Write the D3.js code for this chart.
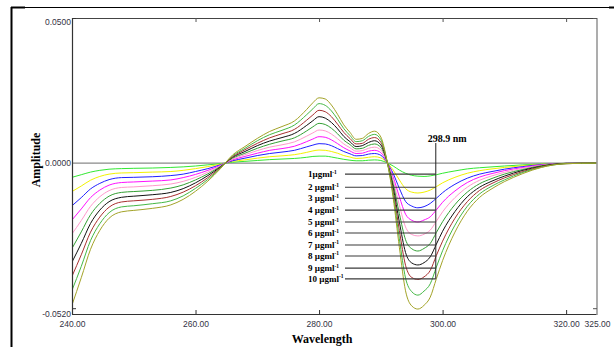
<!DOCTYPE html>
<html><head><meta charset="utf-8">
<script src="https://cdn.jsdelivr.net/npm/d3@7"></script>
<style>html,body{margin:0;padding:0;background:#fff;}svg{display:block;}</style>
</head><body>
<script>
const wavelengths = [240,241.5,243,244.5,246,248,250,253,256,258,260,262,264,266,268,270,272,274,276,278,279,280,281,282,283,284,285,286,287,288,289,290,291,292,293,294,295,296,297,298,299,300,302,304,306,308,310,313,316,320,325];

const s1 = [-0.0049,-0.0040,-0.0031,-0.0025,-0.0021,-0.0019,-0.0018,-0.0017,-0.0015,-0.0013,-0.0010,-0.0006,-0.0002,0.0003,0.0006,0.0009,0.0012,0.0014,0.0016,0.0020,0.0023,0.0024,0.0024,0.0021,0.0017,0.0013,0.0010,0.0008,0.0008,0.0010,0.0011,0.0009,0.0001,-0.0010,-0.0024,-0.0035,-0.0042,-0.0045,-0.0046,-0.0044,-0.0040,-0.0035,-0.0027,-0.0020,-0.0016,-0.0013,-0.0010,-0.0006,-0.0003,-0.0001,0];
const s2 = [-0.0098,-0.0079,-0.0059,-0.0046,-0.0038,-0.0034,-0.0033,-0.0031,-0.0029,-0.0025,-0.0019,-0.0012,-0.0004,0.0006,0.0011,0.0017,0.0022,0.0025,0.0029,0.0037,0.0042,0.0045,0.0044,0.0040,0.0034,0.0026,0.0021,0.0016,0.0017,0.0020,0.0022,0.0018,0.0002,-0.0024,-0.0058,-0.0088,-0.0100,-0.0103,-0.0100,-0.0093,-0.0081,-0.0068,-0.0049,-0.0035,-0.0026,-0.0020,-0.0015,-0.0009,-0.0004,-0.0001,0];
const s3 = [-0.0147,-0.0119,-0.0089,-0.0070,-0.0057,-0.0050,-0.0049,-0.0047,-0.0043,-0.0038,-0.0029,-0.0019,-0.0006,0.0008,0.0017,0.0026,0.0033,0.0038,0.0044,0.0056,0.0062,0.0067,0.0066,0.0060,0.0050,0.0040,0.0032,0.0025,0.0026,0.0031,0.0033,0.0027,0.0002,-0.0036,-0.0087,-0.0132,-0.0148,-0.0154,-0.0150,-0.0139,-0.0121,-0.0102,-0.0073,-0.0052,-0.0038,-0.0029,-0.0021,-0.0012,-0.0005,-0.0001,0];
const s4 = [-0.0196,-0.0158,-0.0119,-0.0093,-0.0076,-0.0067,-0.0065,-0.0062,-0.0058,-0.0050,-0.0039,-0.0025,-0.0008,0.0011,0.0023,0.0034,0.0044,0.0050,0.0058,0.0074,0.0083,0.0091,0.0089,0.0080,0.0067,0.0053,0.0042,0.0033,0.0034,0.0041,0.0044,0.0036,0.0003,-0.0048,-0.0116,-0.0176,-0.0197,-0.0203,-0.0196,-0.0185,-0.0161,-0.0135,-0.0096,-0.0067,-0.0048,-0.0036,-0.0026,-0.0015,-0.0006,-0.0001,0];
const s5 = [-0.0244,-0.0198,-0.0149,-0.0116,-0.0095,-0.0084,-0.0082,-0.0078,-0.0072,-0.0063,-0.0049,-0.0031,-0.0010,0.0014,0.0029,0.0043,0.0055,0.0063,0.0073,0.0093,0.0104,0.0114,0.0111,0.0100,0.0084,0.0066,0.0053,0.0041,0.0043,0.0051,0.0055,0.0045,0.0004,-0.0060,-0.0145,-0.0220,-0.0246,-0.0251,-0.0245,-0.0231,-0.0200,-0.0168,-0.0119,-0.0083,-0.0059,-0.0044,-0.0032,-0.0018,-0.0008,-0.0001,0];
const s6 = [-0.0294,-0.0237,-0.0178,-0.0139,-0.0114,-0.0101,-0.0098,-0.0094,-0.0086,-0.0075,-0.0058,-0.0037,-0.0012,0.0017,0.0034,0.0051,0.0065,0.0076,0.0087,0.0111,0.0125,0.0137,0.0133,0.0120,0.0101,0.0079,0.0064,0.0049,0.0051,0.0061,0.0066,0.0054,0.0005,-0.0072,-0.0174,-0.0264,-0.0295,-0.0303,-0.0294,-0.0277,-0.0239,-0.0202,-0.0143,-0.0100,-0.0071,-0.0053,-0.0038,-0.0022,-0.0009,-0.0001,0];
const s7 = [-0.0341,-0.0277,-0.0208,-0.0162,-0.0133,-0.0118,-0.0114,-0.0109,-0.0101,-0.0088,-0.0068,-0.0043,-0.0014,0.0020,0.0040,0.0060,0.0076,0.0088,0.0102,0.0130,0.0146,0.0160,0.0155,0.0140,0.0118,0.0092,0.0074,0.0057,0.0060,0.0071,0.0077,0.0063,0.0006,-0.0084,-0.0203,-0.0308,-0.0344,-0.0351,-0.0343,-0.0323,-0.0279,-0.0235,-0.0167,-0.0116,-0.0083,-0.0062,-0.0045,-0.0025,-0.0011,-0.0001,0];
const s8 = [-0.0390,-0.0316,-0.0238,-0.0186,-0.0152,-0.0134,-0.0130,-0.0125,-0.0115,-0.0100,-0.0078,-0.0050,-0.0016,0.0022,0.0046,0.0068,0.0087,0.0101,0.0116,0.0148,0.0166,0.0182,0.0177,0.0160,0.0134,0.0106,0.0085,0.0066,0.0068,0.0082,0.0088,0.0072,0.0006,-0.0096,-0.0232,-0.0352,-0.0394,-0.0401,-0.0392,-0.0370,-0.0318,-0.0269,-0.0190,-0.0133,-0.0094,-0.0070,-0.0051,-0.0029,-0.0012,-0.0002,0];
const s9 = [-0.0438,-0.0356,-0.0267,-0.0209,-0.0171,-0.0151,-0.0147,-0.0140,-0.0130,-0.0113,-0.0087,-0.0056,-0.0018,0.0025,0.0051,0.0077,0.0098,0.0113,0.0131,0.0167,0.0187,0.0205,0.0199,0.0180,0.0151,0.0119,0.0095,0.0074,0.0077,0.0092,0.0099,0.0081,0.0007,-0.0108,-0.0261,-0.0396,-0.0443,-0.0455,-0.0441,-0.0416,-0.0358,-0.0302,-0.0214,-0.0149,-0.0106,-0.0079,-0.0058,-0.0032,-0.0014,-0.0002,0];
const s10 = [-0.0489,-0.0395,-0.0297,-0.0232,-0.0190,-0.0168,-0.0163,-0.0156,-0.0144,-0.0125,-0.0097,-0.0062,-0.0020,0.0028,0.0057,0.0085,0.0109,0.0126,0.0145,0.0185,0.0208,0.0225,0.0221,0.0200,0.0168,0.0132,0.0106,0.0082,0.0085,0.0102,0.0110,0.0090,0.0008,-0.0120,-0.0290,-0.0440,-0.0492,-0.0503,-0.0490,-0.0462,-0.0398,-0.0336,-0.0238,-0.0166,-0.0118,-0.0088,-0.0064,-0.0036,-0.0015,-0.0002,0];

const seriesValues = [s1,s2,s3,s4,s5,s6,s7,s8,s9,s10];
const seriesNames = ["1µgml","2 µgml","3 µgml","4 µgml","5 µgml","6 µgml","7 µgml","8 µgml","9 µgml","10 µgml"];
const seriesColors = ["#33e833","#f2f200","#2020ff","#ff10ff","#ff99cc","#34a034","#111111","#a83030","#44b844","#a3a328"];
const markerWavelength = 298.9;
const markerLabel = "298.9 nm";
const readoutValues = [-0.0038,-0.0083,-0.0121,-0.0162,-0.0203,-0.0241,-0.0282,-0.0320,-0.0362,-0.0399];
const xTickValues = [240,260,280,300,320,325];
const xTickLabels = ["240.00","260.00","280.00","300.00","320.00","325.00"];
const xInnerTicks = [260,280,300,320];
const yTickValues = [0.05,0,-0.052];
const yTickLabels = ["0.0500","0.0000","-0.0520"];
const yInnerTicks = [0.05,-0.05];

const W = 614, H = 347;
const m = {left:72, top:18, right:597, bottom:314};
const svg = d3.select("body").append("svg").attr("width",W).attr("height",H);

const x = d3.scaleLinear().domain([240,325]).range([m.left,m.right]);
const y = d3.scaleLinear().domain([-0.052,0.05]).range([m.bottom,m.top]);

// outer frame
svg.append("line").attr("x1",11.5).attr("x2",11.5).attr("y1",7).attr("y2",H).attr("stroke","#000").attr("stroke-width",2);
svg.append("line").attr("x1",11).attr("x2",W).attr("y1",7.5).attr("y2",7.5).attr("stroke","#000").attr("stroke-width",1.2);
svg.append("line").attr("x1",11).attr("x2",25).attr("y1",7.5).attr("y2",7.5).attr("stroke","#000").attr("stroke-width",2);
svg.append("line").attr("x1",609).attr("x2",W).attr("y1",7.5).attr("y2",7.5).attr("stroke","#000").attr("stroke-width",2);

svg.append("defs").append("clipPath").attr("id","clip").append("rect")
  .attr("x",m.left).attr("y",m.top).attr("width",m.right-m.left).attr("height",m.bottom-m.top);

// zero line
svg.append("line").attr("x1",m.left).attr("x2",m.right).attr("y1",y(0)).attr("y2",y(0))
  .attr("stroke","#8a8a8a").attr("stroke-width",1.3);

// curves
const line = d3.line().x((d,i)=>x(wavelengths[i])).y(d=>y(d)).curve(d3.curveMonotoneX);
const g = svg.append("g").attr("clip-path","url(#clip)");
seriesValues.forEach((vals,k)=>{
  g.append("path").attr("d",line(vals)).attr("fill","none")
    .attr("stroke",seriesColors[k]).attr("stroke-width",1);
});

// plot frame
svg.append("line").attr("x1",m.left).attr("x2",m.right).attr("y1",m.top+0.5).attr("y2",m.top+0.5).attr("stroke","#444").attr("stroke-width",1);
svg.append("line").attr("x1",m.left).attr("x2",m.right).attr("y1",m.bottom+0.5).attr("y2",m.bottom+0.5).attr("stroke","#333").attr("stroke-width",1.2);
svg.append("line").attr("x1",m.left+0.5).attr("x2",m.left+0.5).attr("y1",m.top).attr("y2",m.bottom).attr("stroke","#333").attr("stroke-width",1.2);
svg.append("line").attr("x1",m.right).attr("x2",m.right).attr("y1",m.top).attr("y2",m.bottom+1).attr("stroke","#999").attr("stroke-width",1.6);

const tickFont = "'Liberation Sans', Arial, sans-serif";

// x axis labels
const xAxis = svg.append("g").attr("transform",`translate(0,${m.bottom})`)
  .call(d3.axisBottom(x).tickValues(xTickValues).tickSize(0).tickPadding(7)
    .tickFormat((d,i)=>xTickLabels[i]));
xAxis.select(".domain").remove();
xAxis.selectAll("text").attr("font-family",tickFont).attr("font-size",8.5).attr("fill","#333344");

// inner x ticks
svg.append("g").attr("transform",`translate(0,${m.bottom})`)
  .call(d3.axisTop(x).tickValues(xInnerTicks).tickSize(4).tickFormat(""))
  .call(a=>a.select(".domain").remove())
  .selectAll("line").attr("stroke","#333");
svg.append("g").attr("transform",`translate(0,${m.top})`)
  .call(d3.axisBottom(x).tickValues(xInnerTicks).tickSize(4).tickFormat(""))
  .call(a=>a.select(".domain").remove())
  .selectAll("line").attr("stroke","#555");

// y axis labels
const yAxis = svg.append("g").attr("transform",`translate(${m.left},0)`)
  .call(d3.axisLeft(y).tickValues(yTickValues).tickSize(0).tickPadding(1)
    .tickFormat((d,i)=>yTickLabels[i]));
yAxis.select(".domain").remove();
yAxis.selectAll("text").attr("font-family",tickFont).attr("font-size",8.5).attr("fill","#333344");
yAxis.selectAll(".tick").filter(d=>d===0.05).select("text").attr("dy","0.75em");

// inner y ticks
svg.append("g").attr("transform",`translate(${m.left},0)`)
  .call(d3.axisRight(y).tickValues(yInnerTicks).tickSize(4).tickFormat(""))
  .call(a=>a.select(".domain").remove())
  .selectAll("line").attr("stroke","#333");
svg.append("g").attr("transform",`translate(${m.right},0)`)
  .call(d3.axisLeft(y).tickValues(yInnerTicks).tickSize(4).tickFormat(""))
  .call(a=>a.select(".domain").remove())
  .selectAll("line").attr("stroke","#555");

const serif = "'Liberation Serif', 'Times New Roman', serif";

// axis titles
svg.append("text").attr("transform",`translate(40,160) rotate(-90)`).attr("text-anchor","middle")
  .attr("font-family",serif).attr("font-weight","bold").attr("font-size",12).text("Amplitude");
svg.append("text").attr("x",322).attr("y",343).attr("text-anchor","middle")
  .attr("font-family",serif).attr("font-weight","bold").attr("font-size",12).text("Wavelength");

// marker & readouts
const mx = x(markerWavelength);
svg.append("line").attr("x1",mx).attr("x2",mx).attr("y1",143).attr("y2",y(readoutValues[9]))
  .attr("stroke","#222").attr("stroke-width",1);
svg.append("text").attr("x",mx-8).attr("y",142).attr("font-family",serif).attr("font-weight","bold")
  .attr("font-size",10).text(markerLabel);

readoutValues.forEach((v,k)=>{
  const yy = y(v);
  svg.append("line").attr("x1",345).attr("x2",mx).attr("y1",yy).attr("y2",yy)
    .attr("stroke","#3a3a3a").attr("stroke-width",1.1);
  const t = svg.append("text").attr("x",308).attr("y",yy+3).attr("font-family",serif)
    .attr("font-weight","bold").attr("font-size",9).text(seriesNames[k]);
  t.append("tspan").attr("font-size",5.5).attr("dy",-3.5).text("-1");
});
</script>
</body></html>
